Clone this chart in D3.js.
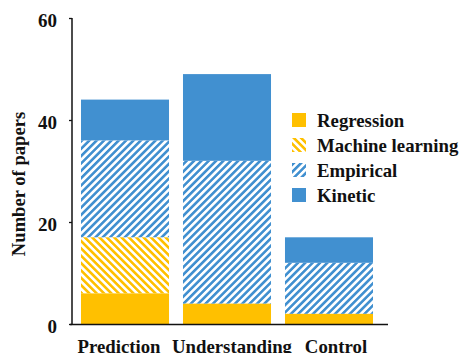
<!DOCTYPE html>
<html><head><meta charset="utf-8">
<script src="https://cdn.jsdelivr.net/npm/d3@7"></script>
<style>body{margin:0;background:#fff}svg{display:block}text{font-family:"Liberation Serif","Times New Roman",serif;font-weight:bold;fill:#111}</style>
</head><body>
<script>
const categories = ["Prediction", "Understanding", "Control"];
const seriesNames = ["Regression", "Machine learning", "Empirical", "Kinetic"];
const regression = [6, 4, 2];
const machineLearning = [11, 0, 0];
const empirical = [19, 28, 10];
const kinetic = [8, 17, 5];
const yTicks = [0, 20, 40, 60];

const W = 460, H = 353;
const svg = d3.select("body").append("svg").attr("width", W).attr("height", H);
const defs = svg.append("defs");
const orange = "#FFC000", blue = "#4190D0";
function hatch(id, color, dir) {
  const p = defs.append("pattern").attr("id", id).attr("patternUnits", "userSpaceOnUse")
    .attr("width", 5.2).attr("height", 5.2)
    .attr("patternTransform", `rotate(${dir})`);
  p.append("rect").attr("width", 2.6).attr("height", 5.2).attr("fill", color);
}
hatch("ml", orange, -45);
hatch("emp", blue, 45);
const fills = [orange, "url(#ml)", "url(#emp)", blue];

const x = d3.scaleBand().domain(categories).range([74, 380]).paddingInner(0.137).paddingOuter(0.0686);
const y = d3.scaleLinear().domain([0, 60]).range([324, 18]);

const rows = categories.map((c, i) => ({cat: c, Regression: regression[i], "Machine learning": machineLearning[i], Empirical: empirical[i], Kinetic: kinetic[i]}));
const stacked = d3.stack().keys(seriesNames)(rows);

svg.append("g").selectAll("g").data(stacked).join("g")
  .attr("fill", (d, i) => fills[i])
  .selectAll("rect").data(d => d).join("rect")
  .attr("x", d => x(d.data.cat)).attr("width", x.bandwidth())
  .attr("y", d => y(d[1])).attr("height", d => Math.max(0, y(d[0]) - y(d[1])));

// axes
const yAxis = svg.append("g").attr("transform", "translate(72,0)")
  .call(d3.axisLeft(y).tickValues(yTicks).tickSize(3).tickPadding(12).tickSizeOuter(0));
yAxis.select(".domain").attr("stroke", "#111").attr("stroke-width", 1.5).attr("d", `M0,${y(60)}V${y(0)+1}`);
yAxis.selectAll(".tick line").attr("stroke", "#111").attr("stroke-width", 1.3);
yAxis.selectAll(".tick text").attr("dy", "0.45em").style("font-size", "19px").style("font-family", '"Liberation Serif",serif').style("font-weight", "bold").attr("fill", "#111");

svg.append("line").attr("x1", 70).attr("x2", 388).attr("y1", y(0) + 0.5).attr("y2", y(0) + 0.5)
  .attr("stroke", "#111").attr("stroke-width", 1.6);

const labelShift = [-6, 5, 7];
svg.append("g").selectAll("text").data(categories).join("text")
  .attr("x", (d, i) => x(d) + x.bandwidth() / 2 + labelShift[i]).attr("y", 352.5)
  .attr("text-anchor", "middle").style("font-size", "18.8px").text(d => d);

svg.append("text").attr("transform", "translate(25,184) rotate(-90)")
  .attr("text-anchor", "middle").style("font-size", "18.6px").text("Number of papers");

// legend
const lg = svg.append("g").selectAll("g").data(seriesNames).join("g")
  .attr("transform", (d, i) => `translate(292,${113 + i * 25})`);
lg.append("rect").attr("width", 14).attr("height", 14).attr("fill", (d, i) => fills[i]);
lg.append("text").attr("x", 25).attr("y", 13.5).style("font-size", "18.8px").text(d => d);
</script>
</body></html>
